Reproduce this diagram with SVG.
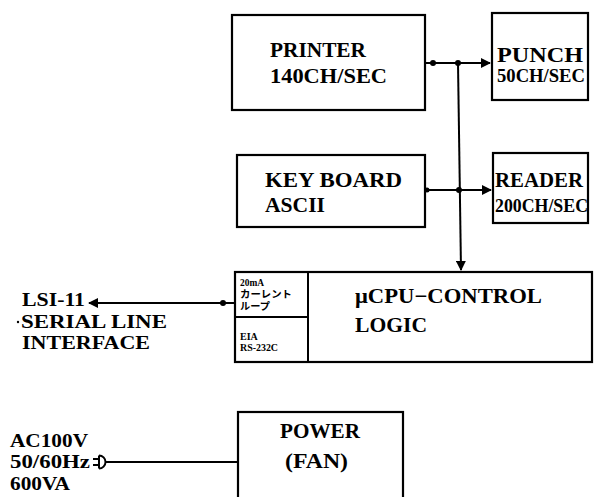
<svg xmlns="http://www.w3.org/2000/svg" width="594" height="497" viewBox="0 0 594 497">
<style>
.box{fill:#fff;stroke:#000;stroke-width:2.2}
.ln{fill:none;stroke:#000;stroke-width:2}
.t{font-family:"Liberation Serif","Noto Sans CJK JP",serif;font-weight:bold;fill:#000}
.big{font-size:21px}
.lft{font-size:18px}
.mid{font-size:18px}
.sm{font-size:10px}
</style>
<defs>
<marker id="ah" viewBox="0 0 10 10" refX="9" refY="5" markerWidth="5" markerHeight="5" orient="auto-start-reverse" markerUnits="strokeWidth">
<path d="M0,0 L10,5 L0,10 Z" fill="#000"/>
</marker>
</defs>
<rect width="594" height="497" fill="#fff"/>
<g id="connectors">
<line class="ln" x1="425" y1="63" x2="490" y2="63" marker-end="url(#ah)"/>
<circle cx="433" cy="63" r="3"/>
<circle cx="458" cy="63" r="3"/>
<line class="ln" x1="425" y1="190" x2="491" y2="190" marker-end="url(#ah)"/>
<circle cx="427" cy="190" r="2.5"/>
<circle cx="459" cy="190" r="3"/>
<line class="ln" x1="458" y1="63" x2="461" y2="270" marker-end="url(#ah)"/>
<line class="ln" x1="89" y1="303" x2="235" y2="303" marker-start="url(#ah)"/>
<circle cx="223" cy="303" r="3"/>
<line class="ln" x1="105" y1="462" x2="238" y2="462"/>
<path class="ln" d="M93,459 H99 M93,465 H99 M99,455.5 V468.5 M99,455.5 A6.5,6.5 0 0 1 99,468.5" />
</g>
<g id="printer">
<rect class="box" x="232" y="15" width="193" height="95"/>
<text class="t big" x="270" y="57" textLength="96" lengthAdjust="spacingAndGlyphs">PRINTER</text>
<text class="t big" x="270" y="83" textLength="117" lengthAdjust="spacingAndGlyphs">140CH/SEC</text>
</g>
<g id="punch">
<rect class="box" x="492" y="13" width="96" height="87"/>
<text class="t big" x="497" y="62" textLength="86" lengthAdjust="spacingAndGlyphs">PUNCH</text>
<text class="t mid" x="497" y="82" textLength="88" lengthAdjust="spacingAndGlyphs">50CH/SEC</text>
</g>
<g id="keyboard">
<rect class="box" x="237" y="155" width="188" height="72"/>
<text class="t big" x="265" y="187" textLength="137" lengthAdjust="spacingAndGlyphs">KEY BOARD</text>
<text class="t big" x="265" y="212" textLength="60" lengthAdjust="spacingAndGlyphs">ASCII</text>
</g>
<g id="reader">
<rect class="box" x="493" y="153" width="95" height="70"/>
<text class="t big" x="495" y="187" textLength="88" lengthAdjust="spacingAndGlyphs">READER</text>
<text class="t mid" x="495" y="212" textLength="93" lengthAdjust="spacingAndGlyphs">200CH/SEC</text>
</g>
<g id="cpu">
<rect class="box" x="235" y="272" width="357" height="90"/>
<line class="ln" x1="308" y1="272" x2="308" y2="362"/>
<line class="ln" x1="235" y1="317" x2="308" y2="317"/>
<text class="t big" x="355" y="303" textLength="187" lengthAdjust="spacingAndGlyphs">μCPU−CONTROL</text>
<text class="t big" x="355" y="332" textLength="72" lengthAdjust="spacingAndGlyphs">LOGIC</text>
</g>
<g id="interface-current">
<text class="t sm" x="240" y="286" textLength="24" lengthAdjust="spacingAndGlyphs">20mA</text>
<text class="t sm" x="240" y="298" textLength="52" lengthAdjust="spacingAndGlyphs">カーレント</text>
<text class="t sm" x="240" y="310" textLength="30" lengthAdjust="spacingAndGlyphs">ループ</text>
</g>
<g id="interface-eia">
<text class="t sm" x="240" y="340" font-size="11">EIA</text>
<text class="t sm" x="240" y="351" font-size="11" textLength="38" lengthAdjust="spacingAndGlyphs">RS-232C</text>
</g>
<g id="lsi11">
<text class="t lft" x="22" y="306" textLength="63" lengthAdjust="spacingAndGlyphs">LSI-11</text>
<circle cx="18" cy="322" r="1.2"/>
<text class="t lft" x="21" y="328" textLength="146" lengthAdjust="spacingAndGlyphs">SERIAL LINE</text>
<text class="t lft" x="22" y="349" textLength="128" lengthAdjust="spacingAndGlyphs">INTERFACE</text>
</g>
<g id="ac">
<text class="t lft" x="10" y="447" textLength="78" lengthAdjust="spacingAndGlyphs">AC100V</text>
<text class="t lft" x="10" y="468" textLength="80" lengthAdjust="spacingAndGlyphs">50/60Hz</text>
<text class="t lft" x="10" y="490" textLength="60" lengthAdjust="spacingAndGlyphs">600VA</text>
</g>
<g id="power">
<rect class="box" x="238" y="412" width="165" height="100"/>
<text class="t big" x="280" y="438" textLength="80" lengthAdjust="spacingAndGlyphs">POWER</text>
<text class="t big" x="285" y="468" textLength="63" lengthAdjust="spacingAndGlyphs">(FAN)</text>
</g>
</svg>
